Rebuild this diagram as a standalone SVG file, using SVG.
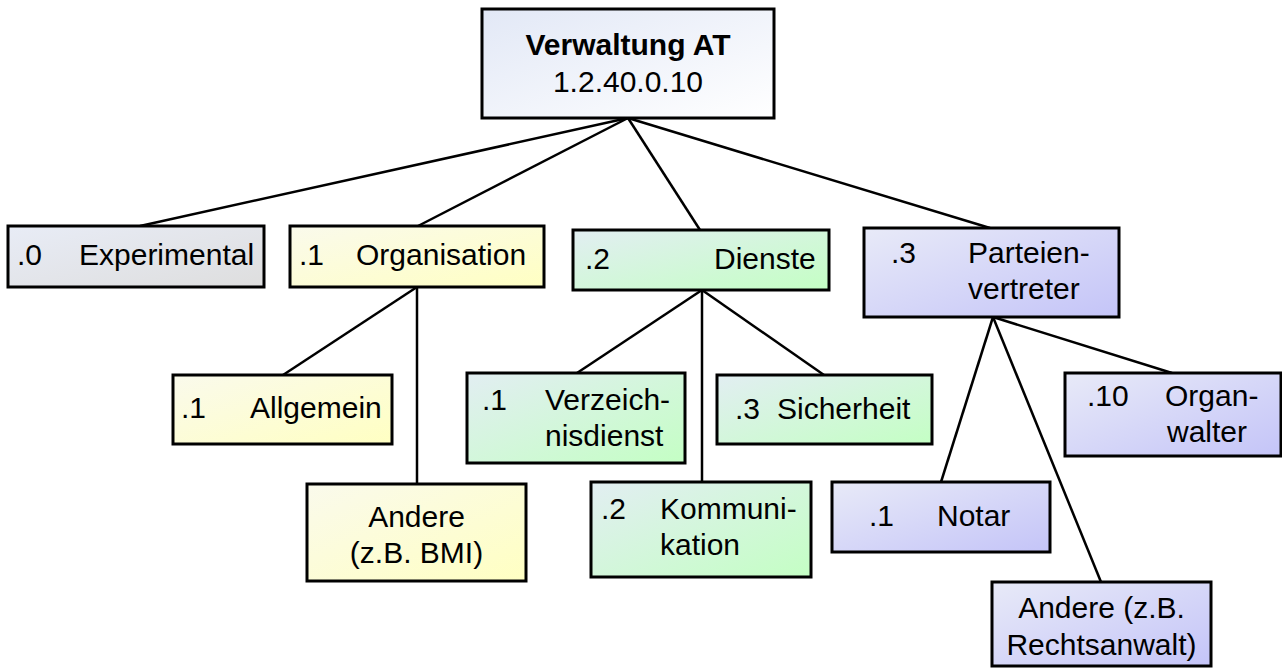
<svg xmlns="http://www.w3.org/2000/svg" width="1282" height="669" viewBox="0 0 1282 669">
<defs>
<linearGradient id="gRoot" x1="0" y1="0" x2="1" y2="1"><stop offset="0" stop-color="#e2e8f6"/><stop offset="1" stop-color="#ffffff"/></linearGradient>
<linearGradient id="gGrey" x1="0" y1="0" x2="1" y2="1"><stop offset="0" stop-color="#e8ecf6"/><stop offset="1" stop-color="#dedede"/></linearGradient>
<linearGradient id="gYel" x1="0" y1="0" x2="1" y2="1"><stop offset="0" stop-color="#fafaec"/><stop offset="1" stop-color="#ffffc2"/></linearGradient>
<linearGradient id="gGrn" x1="0" y1="0" x2="1" y2="1"><stop offset="0" stop-color="#e2eef2"/><stop offset="1" stop-color="#c4ffc4"/></linearGradient>
<linearGradient id="gBlu" x1="0" y1="0" x2="1" y2="1"><stop offset="0" stop-color="#e8eaf8"/><stop offset="1" stop-color="#c4c4f8"/></linearGradient>
</defs>
<style>
rect{stroke:#000;stroke-width:3}
text{font-family:"Liberation Sans",Arial,sans-serif;font-size:30px;fill:#000}
.c{text-anchor:middle}
.b{font-weight:bold}
#connectors line{stroke:#000;stroke-width:2.5}
</style>
<rect width="1282" height="669" fill="#fff" style="stroke:none"/>
<g id="connectors">
<line x1="628" y1="118" x2="140" y2="226"/>
<line x1="628" y1="118" x2="418" y2="226"/>
<line x1="628" y1="118" x2="700" y2="230"/>
<line x1="628" y1="118" x2="990" y2="228"/>
<line x1="417" y1="287" x2="283" y2="375"/>
<line x1="417" y1="287" x2="417" y2="484"/>
<line x1="702" y1="290" x2="577" y2="373"/>
<line x1="702" y1="290" x2="702" y2="482"/>
<line x1="702" y1="290" x2="824" y2="375"/>
<line x1="993" y1="317" x2="1172" y2="373"/>
<line x1="993" y1="317" x2="941" y2="482"/>
<line x1="993" y1="317" x2="1101" y2="582"/>
</g>
<g id="root">
<rect x="482" y="9" width="292" height="109" fill="url(#gRoot)"/>
<text class="c b" x="628" y="55">Verwaltung AT</text>
<text class="c" x="628" y="92">1.2.40.0.10</text>
</g>
<g id="experimental">
<rect x="8" y="226" width="256" height="61" fill="url(#gGrey)"/>
<text x="17" y="265">.0</text>
<text x="79" y="265">Experimental</text>
</g>
<g id="organisation">
<rect x="290" y="226" width="254" height="61" fill="url(#gYel)"/>
<text x="299" y="265">.1</text>
<text x="356" y="265">Organisation</text>
</g>
<g id="dienste">
<rect x="573" y="230" width="256" height="60" fill="url(#gGrn)"/>
<text x="585" y="269">.2</text>
<text x="714" y="269">Dienste</text>
</g>
<g id="parteienvertreter">
<rect x="864" y="228" width="255" height="89" fill="url(#gBlu)"/>
<text x="891" y="263">.3</text>
<text x="968" y="263">Parteien-</text>
<text x="968" y="299">vertreter</text>
</g>
<g id="allgemein">
<rect x="173" y="375" width="219" height="69" fill="url(#gYel)"/>
<text x="181" y="418">.1</text>
<text x="250" y="418">Allgemein</text>
</g>
<g id="andere-bmi">
<rect x="307" y="484" width="219" height="97" fill="url(#gYel)"/>
<text class="c" x="416.5" y="527">Andere</text>
<text class="c" x="416.5" y="563">(z.B. BMI)</text>
</g>
<g id="verzeichnisdienst">
<rect x="467" y="373" width="218" height="90" fill="url(#gGrn)"/>
<text x="482" y="410">.1</text>
<text x="545" y="410">Verzeich-</text>
<text x="545" y="446">nisdienst</text>
</g>
<g id="sicherheit">
<rect x="717" y="375" width="215" height="69" fill="url(#gGrn)"/>
<text x="735" y="419">.3</text>
<text x="777" y="419">Sicherheit</text>
</g>
<g id="kommunikation">
<rect x="591" y="482" width="220" height="95" fill="url(#gGrn)"/>
<text x="601" y="519">.2</text>
<text x="660" y="519">Kommuni-</text>
<text x="660" y="555">kation</text>
</g>
<g id="organwalter">
<rect x="1065" y="373" width="216" height="83" fill="url(#gBlu)"/>
<text x="1087" y="406">.10</text>
<text x="1165" y="406">Organ-</text>
<text x="1167" y="442">walter</text>
</g>
<g id="notar">
<rect x="832" y="482" width="218" height="70" fill="url(#gBlu)"/>
<text x="869" y="526">.1</text>
<text x="937" y="526">Notar</text>
</g>
<g id="andere-rechtsanwalt">
<rect x="992" y="582" width="219" height="84" fill="url(#gBlu)"/>
<text class="c" x="1101.5" y="618">Andere (z.B.</text>
<text class="c" x="1101.5" y="655">Rechtsanwalt)</text>
</g>
</svg>
